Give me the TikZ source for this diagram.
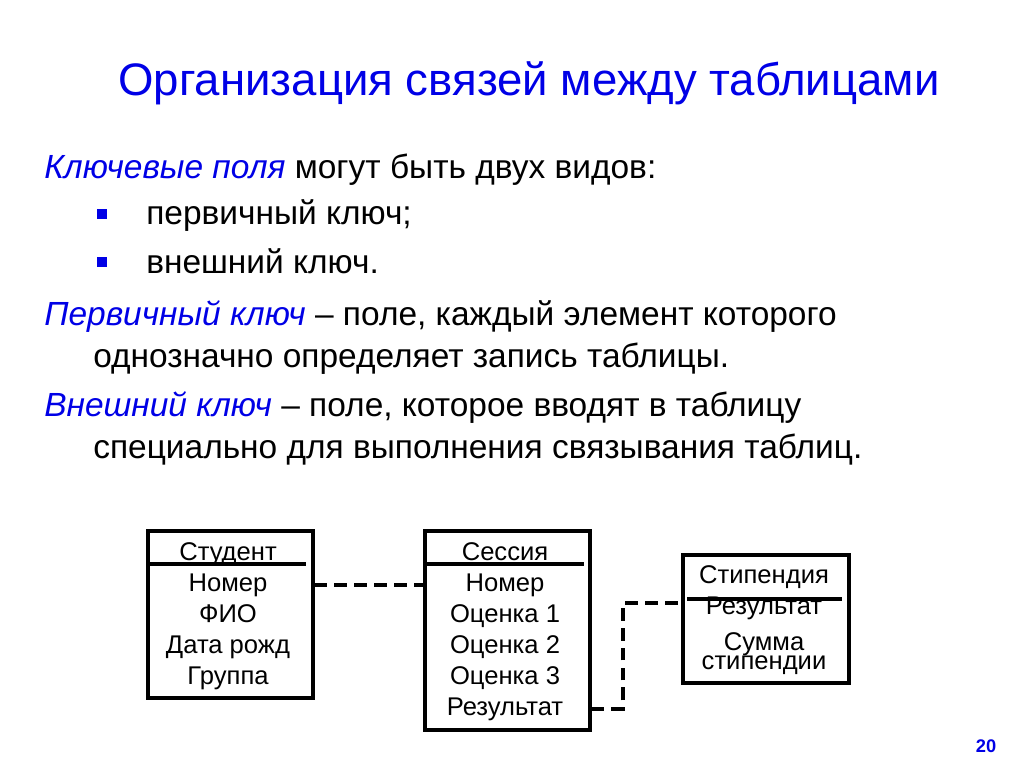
\documentclass[tikz,border=0pt]{standalone}
\usepackage{fontspec}
\setmainfont{Liberation Sans}
\usetikzlibrary{positioning}
\definecolor{slideblue}{RGB}{0,0,230}

\begin{document}
\begin{tikzpicture}[x=0.025cm,y=-0.025cm]
\tikzstyle{txt}=[anchor=base west, inner sep=0pt, font=\fontsize{23.8}{29}\selectfont]
\tikzstyle{bul}=[fill=slideblue, inner sep=0pt, minimum size=10*0.025cm]
\tikzstyle{tbl}=[draw=black, line width=2.5pt, anchor=north west, inner sep=0pt]
\tikzstyle{row}=[anchor=base, inner sep=0pt, font=\fontsize{18.2}{21}\selectfont]
\tikzstyle{hdr}=[line width=2.3pt]
\tikzstyle{link}=[line width=2.4pt, dash pattern=on 9.2pt off 5pt]
\useasboundingbox (0,0) rectangle (1024,768);
% title
\node[anchor=base, inner sep=0pt, text=slideblue, font=\fontsize{32.4}{38}\selectfont] (title) at (529,96) {Организация связей между таблицами};
% text
\node[txt] (l1) at (44,179) {\textcolor{slideblue}{\itshape Ключевые поля} могут быть двух видов:};
\node[txt] (l2) at (146,224) {первичный ключ;};
\node[txt] (l3) at (146,273) {внешний ключ.};
\node[bul] (b2) at (102,214) {};
\node[bul] (b3) at (102,262) {};
\node[txt] (l4) at (44,325) {\textcolor{slideblue}{\itshape Первичный ключ} – поле, каждый элемент которого};
\node[txt] (l5) at (93,367) {однозначно определяет запись таблицы.};
\node[txt] (l6) at (44,416) {\textcolor{slideblue}{\itshape Внешний ключ} – поле, которое вводят в таблицу};
\node[txt] (l7) at (93,458) {специально для выполнения связывания таблиц.};
% tables
\node[tbl, minimum width=165*0.025cm, minimum height=167*0.025cm] (stud) at (146,529) {};
\node[tbl, minimum width=165*0.025cm, minimum height=199*0.025cm] (sess) at (423,529) {};
\node[tbl, minimum width=166*0.025cm, minimum height=128*0.025cm] (stip) at (681,553) {};
\draw[hdr] (148,564) -- (306,564);
\draw[hdr] (425,564) -- (584,564);
\draw[hdr] (687,599) -- (842,599);
\foreach \i/\name in {0/Студент,1/Номер,2/ФИО,3/Дата рожд,4/Группа}
    \node[row] (stud-\i) at (228,560+31*\i) {\name};
\foreach \i/\name in {0/Сессия,1/Номер,2/Оценка 1,3/Оценка 2,4/Оценка 3,5/Результат}
    \node[row] (sess-\i) at (505,560+31*\i) {\name};
\node[row] (stip-0) at (764,583) {Стипендия};
\node[row] (stip-1) at (764,614) {Результат};
\node[row] (stip-2) at (764,650) {Сумма};
\node[row] (stip-3) at (764,669) {стипендии};
% links
\coordinate (turn) at (623,603);
\draw[link] (stud.east |- stud-1) -- (sess.west |- stud-1);
\draw[link] (sess.east |- sess-5) -| (turn) -- (stip.west |- turn);
% page number
\node[anchor=base, inner sep=0pt, text=slideblue, font=\fontsize{13}{15}\selectfont\bfseries] (page) at (986,752) {20};
\end{tikzpicture}
\end{document}
